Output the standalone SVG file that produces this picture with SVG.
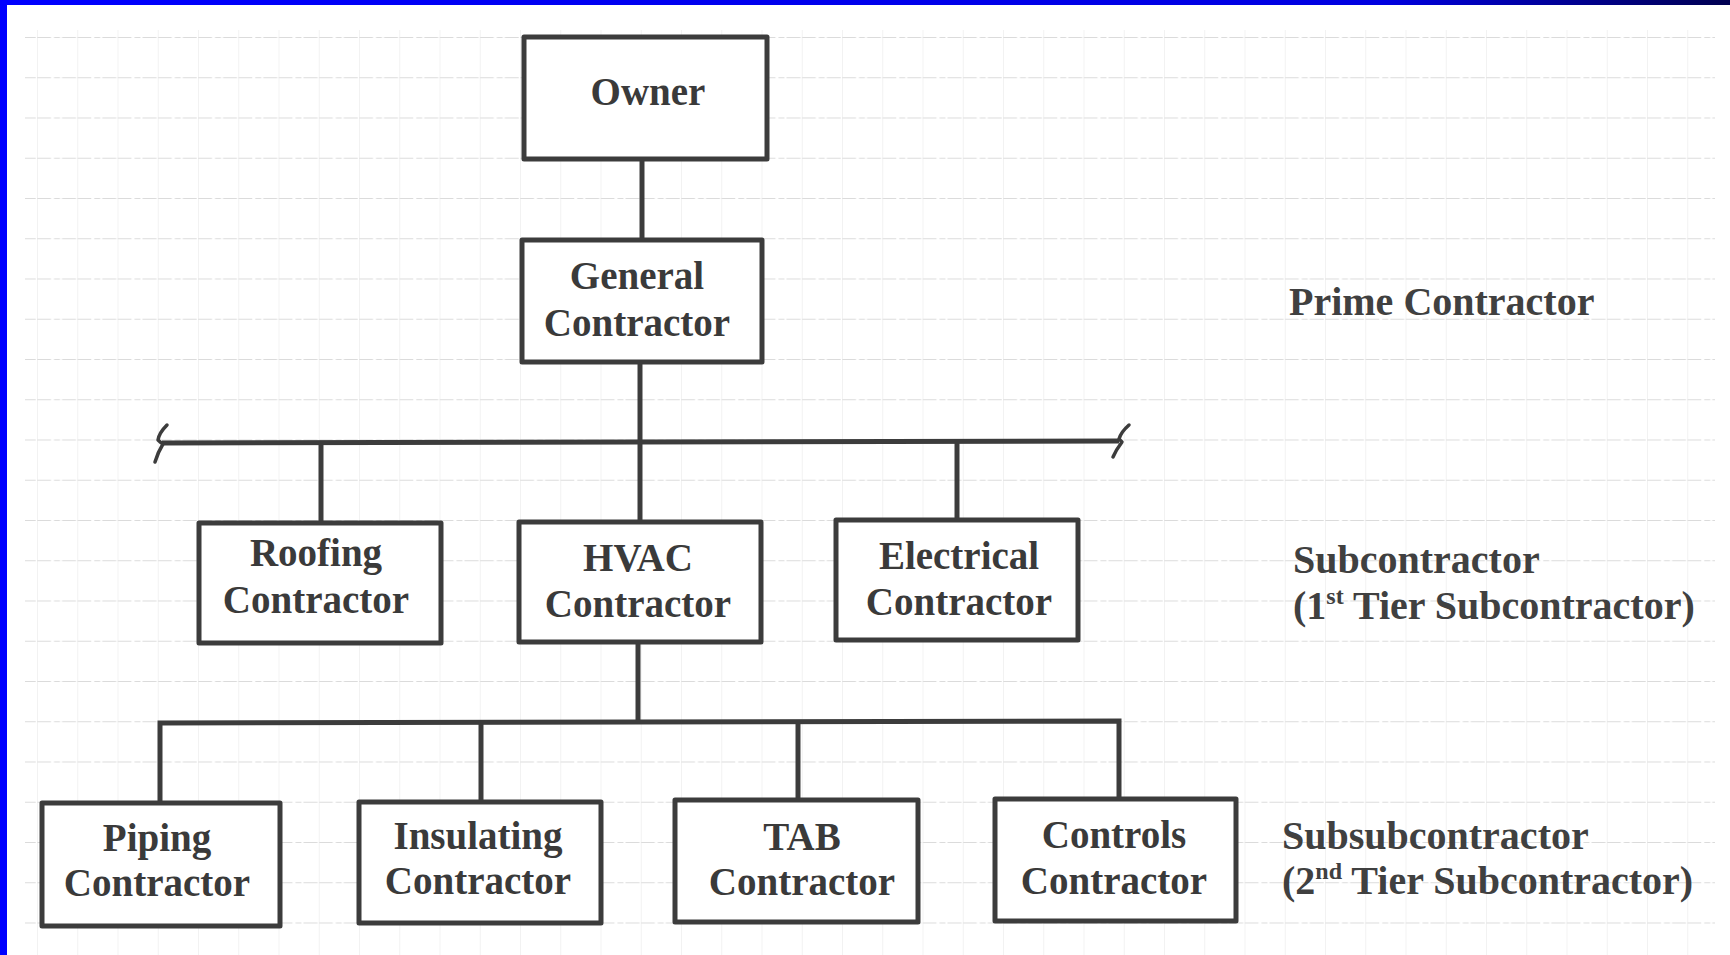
<svg xmlns="http://www.w3.org/2000/svg" width="1730" height="955" viewBox="0 0 1730 955">
<defs>
<linearGradient id="topband" x1="0" y1="0" x2="1" y2="0">
<stop offset="0" stop-color="#0000ff"/>
<stop offset="0.8" stop-color="#0000e0"/>
<stop offset="1" stop-color="#000050"/>
</linearGradient>
<pattern id="grid" x="37" y="37" width="40.25" height="40.25" patternUnits="userSpaceOnUse">
<line x1="0" y1="0" x2="40.25" y2="0" stroke="#b8b8b8" stroke-width="1.2" stroke-dasharray="14 3 6 2"/>
<line x1="0" y1="0" x2="0" y2="40.25" stroke="#e6e6e6" stroke-width="1"/>
</pattern>
<style>
.box{fill:#ffffff;stroke:#3c3c3c;stroke-width:5;stroke-linejoin:round}
.lbl{font-family:"Liberation Serif","Times New Roman",serif;font-weight:bold;font-size:39px;fill:#3a3a3a;text-anchor:middle}
.side{font-family:"Liberation Serif","Times New Roman",serif;font-weight:bold;font-size:40px;fill:#404040}
.conn{fill:none;stroke:#3c3c3c;stroke-width:5;stroke-linecap:butt}
.brk{fill:none;stroke:#3c3c3c;stroke-width:3.5;stroke-linejoin:round;stroke-linecap:round}
</style>
</defs>
<rect x="0" y="0" width="1730" height="955" fill="#ffffff"/>
<rect x="25" y="30" width="1690" height="925" fill="url(#grid)"/>
<rect x="0" y="0" width="1730" height="5" fill="url(#topband)"/>
<rect x="0" y="0" width="7" height="955" fill="#0000ff"/>

<g id="connectors">
<line class="conn" x1="642" y1="160" x2="642" y2="239"/>
<line class="conn" x1="640" y1="362" x2="640" y2="443"/>
<line class="conn" x1="162" y1="443" x2="1119" y2="441"/>
<line class="conn" x1="321" y1="443" x2="321" y2="522"/>
<line class="conn" x1="640" y1="443" x2="640" y2="522"/>
<line class="conn" x1="957" y1="442" x2="957" y2="520"/>
<line class="conn" x1="638" y1="642" x2="638" y2="723"/>
<polyline class="conn" points="160,803 160,723 1119,721 1119,799"/>
<line class="conn" x1="481" y1="722" x2="481" y2="802"/>
<line class="conn" x1="798" y1="722" x2="798" y2="800"/>
<path class="brk" d="M167,425 Q159,433 158,440 Q161,443 163,444 Q158,452 155,462"/>
<path class="brk" d="M1129,425 Q1121,432 1119,439 Q1121,441 1122,442 Q1116,450 1113,457"/>
</g>

<g id="owner">
<rect class="box" x="524" y="37" width="243" height="122"/>
<text class="lbl" x="648" y="105">Owner</text>
</g>
<g id="general-contractor">
<rect class="box" x="522" y="240" width="240" height="122"/>
<text class="lbl" x="637" y="289">General</text>
<text class="lbl" x="637" y="336">Contractor</text>
</g>
<g id="roofing-contractor">
<rect class="box" x="199" y="523" width="242" height="120"/>
<text class="lbl" x="316" y="566">Roofing</text>
<text class="lbl" x="316" y="613">Contractor</text>
</g>
<g id="hvac-contractor">
<rect class="box" x="519" y="522" width="242" height="120"/>
<text class="lbl" x="638" y="571">HVAC</text>
<text class="lbl" x="638" y="617">Contractor</text>
</g>
<g id="electrical-contractor">
<rect class="box" x="836" y="520" width="242" height="120"/>
<text class="lbl" x="959" y="569">Electrical</text>
<text class="lbl" x="959" y="615">Contractor</text>
</g>
<g id="piping-contractor">
<rect class="box" x="42" y="803" width="238" height="123"/>
<text class="lbl" x="157" y="851">Piping</text>
<text class="lbl" x="157" y="896">Contractor</text>
</g>
<g id="insulating-contractor">
<rect class="box" x="359" y="802" width="242" height="121"/>
<text class="lbl" x="478" y="849">Insulating</text>
<text class="lbl" x="478" y="894">Contractor</text>
</g>
<g id="tab-contractor">
<rect class="box" x="675" y="800" width="243" height="122"/>
<text class="lbl" x="802" y="850">TAB</text>
<text class="lbl" x="802" y="895">Contractor</text>
</g>
<g id="controls-contractor">
<rect class="box" x="995" y="799" width="241" height="122"/>
<text class="lbl" x="1114" y="848">Controls</text>
<text class="lbl" x="1114" y="894">Contractor</text>
</g>

<g id="tier-labels">
<text class="side" x="1289" y="315">Prime Contractor</text>
<text class="side" x="1293" y="573">Subcontractor</text>
<text class="side" x="1293" y="619">(1<tspan font-size="24" dy="-15">st</tspan><tspan dy="15"> Tier Subcontractor)</tspan></text>
<text class="side" x="1282" y="849">Subsubcontractor</text>
<text class="side" x="1282" y="894">(2<tspan font-size="24" dy="-15">nd</tspan><tspan dy="15"> Tier Subcontractor)</tspan></text>
</g>
</svg>
